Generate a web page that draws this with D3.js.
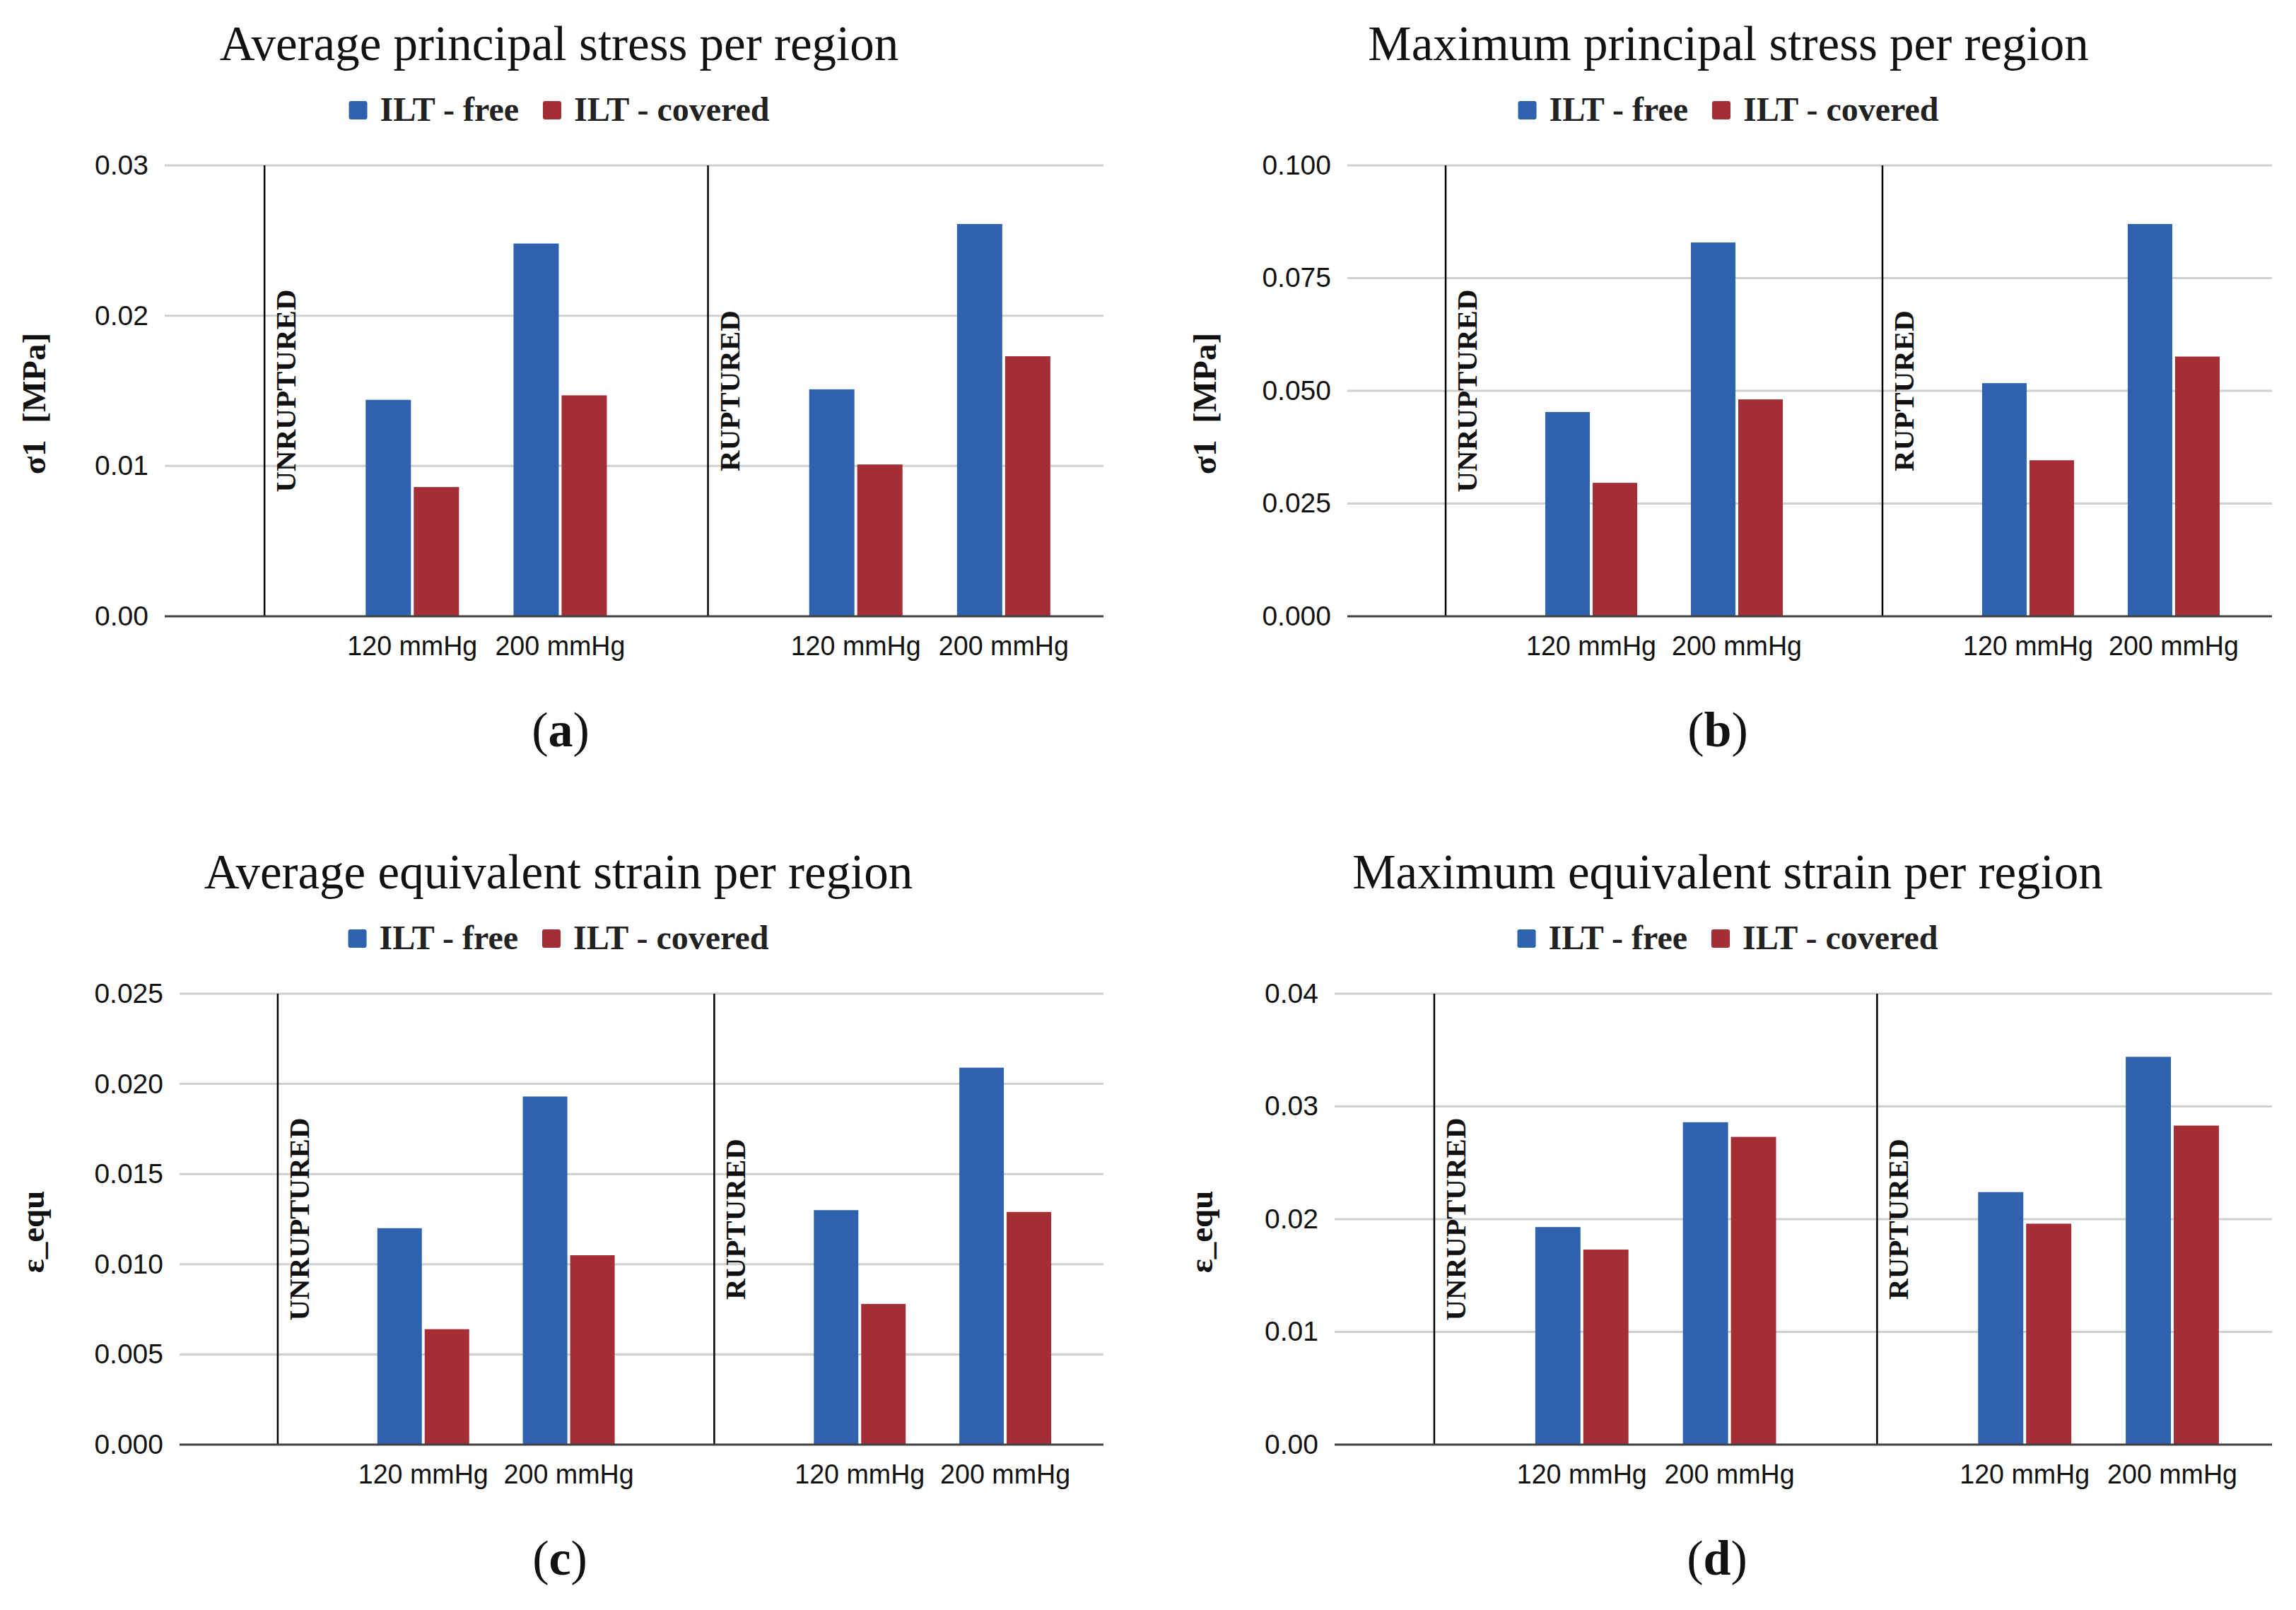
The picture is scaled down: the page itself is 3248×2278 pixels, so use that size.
<!DOCTYPE html>
<html lang="en">
<head>
  <meta charset="UTF-8">
  <title>ILT stress and strain per region</title>
  <style>
    html, body {
      margin: 0;
      background: #fff;
    }
    svg {
      display: block;
    }
  </style>
</head>
<body>
  <script src="https://d3js.org/d3.v7.min.js"></script>
  <script>
    // data, order: region x pressure
    const regions = ["UNRUPTURED", "RUPTURED"];
    const pressures = ["120 mmHg", "200 mmHg"];
    const seriesNames = ["ILT - free", "ILT - covered"];

    const avgStressFree = [0.0144, 0.0248, 0.0151, 0.0261];
    const avgStressCovered = [0.0086, 0.0147, 0.0101, 0.0173];
    const maxStressFree = [0.0453, 0.0829, 0.0517, 0.0870];
    const maxStressCovered = [0.0296, 0.0481, 0.0346, 0.0576];
    const avgStrainFree = [0.0120, 0.0193, 0.0130, 0.0209];
    const avgStrainCovered = [0.0064, 0.0105, 0.0078, 0.0129];
    const maxStrainFree = [0.0193, 0.0286, 0.0224, 0.0344];
    const maxStrainCovered = [0.0173, 0.0273, 0.0196, 0.0283];

    const ticksA = [0, 0.01, 0.02, 0.03];
    const ticksB = [0, 0.025, 0.05, 0.075, 0.1];
    const ticksC = [0, 0.005, 0.01, 0.015, 0.02, 0.025];
    const ticksD = [0, 0.01, 0.02, 0.03, 0.04];

    const colors = ["#2e62ae", "#a52e36"];
    const serif = "'Liberation Serif', 'Times New Roman', serif";
    const sans = "'Liberation Sans', Arial, sans-serif";

    const W = 3248, H = 2278;
    const svg = d3.select("body").append("svg")
      .attr("width", W)
      .attr("height", H);

    // panel layout (pixel positions only)
    const panels = [
      { title: "Average principal stress per region", yTitle: "σ1  [MPa]", caption: "a",
        free: avgStressFree, covered: avgStressCovered, ticks: ticksA, fmt: ".2f",
        cx: 791, capx: 793, top: 0, x0: 233, x1: 1561, yTitleX: 64 },
      { title: "Maximum principal stress per region", yTitle: "σ1  [MPa]", caption: "b",
        free: maxStressFree, covered: maxStressCovered, ticks: ticksB, fmt: ".3f",
        cx: 2445, capx: 2430, top: 0, x0: 1906, x1: 3214, yTitleX: 1720 },
      { title: "Average equivalent strain per region", yTitle: "ε_equ", caption: "c",
        free: avgStrainFree, covered: avgStrainCovered, ticks: ticksC, fmt: ".3f",
        cx: 790, capx: 792, top: 1172, x0: 254, x1: 1561, yTitleX: 62 },
      { title: "Maximum equivalent strain per region", yTitle: "ε_equ", caption: "d",
        free: maxStrainFree, covered: maxStrainCovered, ticks: ticksD, fmt: ".2f",
        cx: 2444, capx: 2429, top: 1172, x0: 1888, x1: 3214, yTitleX: 1715 }
    ];

    panels.forEach(p => drawPanel(p));

    function drawPanel(p) {
      const g = svg.append("g").attr("transform", `translate(0,${p.top})`);
      const yTop = 234, yBot = 872;

      // categories: a blank slot for the region label, then pressures
      const keys = [];
      regions.forEach(r => {
        keys.push(r + "|");
        pressures.forEach(pr => keys.push(r + "|" + pr));
      });

      const x = d3.scaleBand()
        .domain(keys)
        .range([p.x0, p.x1])
        .paddingInner(0)
        .paddingOuter(0.175);

      const y = d3.scaleLinear()
        .domain([0, d3.max(p.ticks)])
        .range([yBot, yTop]);

      // title
      g.append("text")
        .attr("x", p.cx)
        .attr("y", 85)
        .attr("text-anchor", "middle")
        .attr("font-family", serif)
        .attr("font-size", 69)
        .attr("fill", "#111")
        .text(p.title);

      // legend
      const leg = g.append("g");
      let lx = 0;
      seriesNames.forEach((name, i) => {
        leg.append("rect")
          .attr("x", lx)
          .attr("y", 143)
          .attr("width", 26)
          .attr("height", 26)
          .attr("rx", 3)
          .attr("fill", colors[i]);
        const t = leg.append("text")
          .attr("x", lx + 44)
          .attr("y", 171)
          .attr("font-family", serif)
          .attr("font-weight", "bold")
          .attr("font-size", 48)
          .attr("fill", "#222")
          .text(name);
        lx += 44 + t.node().getComputedTextLength() + 34;
      });
      const legW = lx - 34;
      leg.attr("transform", `translate(${p.cx - legW / 2},0)`);

      // gridlines
      g.append("g")
        .selectAll("line")
        .data(p.ticks.filter(t => t > 0))
        .join("line")
        .attr("x1", p.x0)
        .attr("x2", p.x1)
        .attr("y1", d => y(d))
        .attr("y2", d => y(d))
        .attr("stroke", "#d0d0d0")
        .attr("stroke-width", 3);

      // y axis labels
      const yAxis = d3.axisLeft(y)
        .tickValues(p.ticks)
        .tickFormat(d3.format(p.fmt))
        .tickSize(0)
        .tickPadding(23);
      const ya = g.append("g")
        .attr("transform", `translate(${p.x0},0)`)
        .call(yAxis);
      ya.select(".domain").remove();
      ya.selectAll("text")
        .attr("font-family", sans)
        .attr("font-size", 39)
        .attr("fill", "#111");

      // y title
      g.append("text")
        .attr("transform", `translate(${p.yTitleX},${(yTop + yBot) / 2 + 18}) rotate(-90)`)
        .attr("text-anchor", "middle")
        .attr("font-family", serif)
        .attr("font-weight", "bold")
        .attr("font-size", 47)
        .attr("fill", "#111")
        .style("white-space", "pre")
        .text(p.yTitle);

      // bars
      const bw = x.bandwidth() * 0.306;
      const gap = 4;
      const rows = [];
      regions.forEach((r, ri) => {
        pressures.forEach((pr, pi) => {
          const k = ri * pressures.length + pi;
          rows.push({ key: r + "|" + pr, s: 0, v: p.free[k] });
          rows.push({ key: r + "|" + pr, s: 1, v: p.covered[k] });
        });
      });

      g.append("g")
        .selectAll("rect")
        .data(rows)
        .join("rect")
        .attr("x", d => {
          const c = x(d.key) + x.bandwidth() / 2;
          return d.s === 0 ? c - gap / 2 - bw : c + gap / 2;
        })
        .attr("y", d => y(d.v))
        .attr("width", bw)
        .attr("height", d => yBot - y(d.v))
        .attr("fill", d => colors[d.s]);

      // region separators and labels
      regions.forEach(r => {
        const sx = x(r + "|") + x.bandwidth() / 2;
        g.append("line")
          .attr("x1", sx)
          .attr("x2", sx)
          .attr("y1", yTop)
          .attr("y2", yBot)
          .attr("stroke", "#000")
          .attr("stroke-width", 2.5);
        g.append("text")
          .attr("transform", `translate(${sx + 44},${(yTop + yBot) / 2}) rotate(-90)`)
          .attr("text-anchor", "middle")
          .attr("font-family", serif)
          .attr("font-weight", "bold")
          .attr("font-size", 41)
          .attr("fill", "#111")
          .text(r);
      });

      // baseline
      g.append("line")
        .attr("x1", p.x0)
        .attr("x2", p.x1)
        .attr("y1", yBot)
        .attr("y2", yBot)
        .attr("stroke", "#404040")
        .attr("stroke-width", 3);

      // x labels
      g.append("g")
        .selectAll("text")
        .data(keys.filter(k => !k.endsWith("|")))
        .join("text")
        .attr("x", d => x(d) + x.bandwidth() / 2)
        .attr("y", yBot + 55)
        .attr("text-anchor", "middle")
        .attr("font-family", sans)
        .attr("font-size", 39)
        .attr("textLength", 184)
        .attr("lengthAdjust", "spacingAndGlyphs")
        .attr("fill", "#111")
        .text(d => d.split("|")[1]);

      // caption
      const cap = g.append("text")
        .attr("x", p.capx)
        .attr("y", 1056)
        .attr("text-anchor", "middle")
        .attr("font-family", serif)
        .attr("font-size", 70)
        .attr("fill", "#111");
      cap.append("tspan").text("(");
      cap.append("tspan").attr("font-weight", "bold").text(p.caption);
      cap.append("tspan").text(")");
    }
  </script>
</body>
</html>
